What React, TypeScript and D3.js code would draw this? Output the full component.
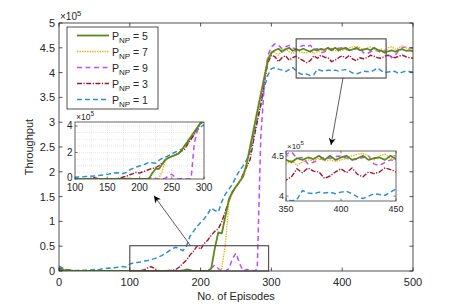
import * as d3 from "d3";

// episodes sampled every 5
const episodes = d3.range(0, 501, 5);

// throughput (x1e5) per P_NP
const throughputP1 = [
  0.10, 0.06, 0.03, 0.02, 0.01, 0.01, 0.02, 0.01, 0.02, 0.02,
  0.03, 0.02, 0.04, 0.05, 0.06, 0.05, 0.07, 0.08, 0.09, 0.08,
  0.14, 0.16, 0.17, 0.18, 0.20, 0.21, 0.23, 0.25, 0.28, 0.31,
  0.35, 0.40, 0.45, 0.48, 0.44, 0.41, 0.50, 0.70, 0.80, 0.90,
  0.98, 1.05, 1.15, 1.27, 1.22, 1.19, 1.40, 1.55, 1.65, 1.75,
  1.90, 2.02, 2.12, 2.24, 2.40, 2.75, 3.05, 3.35, 3.70, 3.95,
  4.08, 4.10, 4.07, 4.05, 4.02, 4.06, 4.10, 4.04, 3.98, 3.96,
  3.97, 3.94, 3.96, 4.07, 4.04, 4.03, 4.05, 4.04, 4.05, 4.03,
  4.05, 4.06, 4.03, 3.99, 3.97, 4.00, 4.03, 4.02, 4.01, 4.05,
  4.09, 4.04, 4.00, 4.01, 4.03, 4.02, 3.98, 4.01, 4.03, 4.02,
  4.01,
];

const throughputP3 = [
  0.06, 0.03, 0.02, 0.01, 0.01, 0.00, 0.00, 0.01, 0.00, 0.00,
  0.00, 0.01, 0.00, 0.00, 0.00, 0.01, 0.00, 0.00, 0.00, 0.00,
  0.00, 0.01, 0.00, 0.01, 0.02, 0.06, 0.09, 0.05, 0.01, 0.00,
  0.00, 0.01, 0.01, 0.03, 0.08, 0.15, 0.22, 0.32, 0.40, 0.50,
  0.44, 0.55, 0.62, 0.72, 0.80, 0.85, 1.00, 1.20, 1.42, 1.58,
  1.70, 1.80, 1.95, 2.10, 2.25, 2.65, 3.00, 3.35, 3.80, 4.20,
  4.35, 4.32, 4.22, 4.30, 4.34, 4.25, 4.30, 4.33, 4.28, 4.24,
  4.20, 4.24, 4.34, 4.29, 4.35, 4.31, 4.30, 4.22, 4.25, 4.30,
  4.34, 4.29, 4.35, 4.27, 4.24, 4.30, 4.28, 4.30, 4.35, 4.33,
  4.30, 4.29, 4.33, 4.35, 4.32, 4.30, 4.33, 4.35, 4.32, 4.30,
  4.29,
];

const throughputP5 = [
  0.04, 0.02, 0.01, 0.00, 0.00, 0.00, 0.00, 0.00, 0.00, 0.00,
  0.00, 0.00, 0.00, 0.00, 0.00, 0.00, 0.00, 0.00, 0.00, 0.00,
  0.00, 0.00, 0.00, 0.00, 0.00, 0.00, 0.00, 0.00, 0.00, 0.00,
  0.00, 0.00, 0.00, 0.00, 0.00, 0.01, 0.03, 0.02, 0.00, 0.00,
  0.00, 0.00, 0.00, 0.05, 0.45, 0.78, 0.76, 1.10, 1.45, 1.60,
  1.70, 1.80, 1.90, 2.15, 2.50, 2.85, 3.20, 3.55, 3.90, 4.25,
  4.40, 4.45, 4.48, 4.42, 4.47, 4.50, 4.44, 4.47, 4.45, 4.48,
  4.45, 4.42, 4.47, 4.45, 4.48, 4.46, 4.50, 4.45, 4.50, 4.45,
  4.48, 4.50, 4.45, 4.47, 4.50, 4.45, 4.47, 4.48, 4.45, 4.50,
  4.46, 4.44, 4.40, 4.43, 4.45, 4.42, 4.46, 4.47, 4.44, 4.45,
  4.43,
];

const throughputP7 = [
  0.03, 0.01, 0.00, 0.00, 0.00, 0.00, 0.00, 0.00, 0.00, 0.00,
  0.00, 0.00, 0.00, 0.00, 0.00, 0.00, 0.00, 0.00, 0.00, 0.00,
  0.00, 0.00, 0.00, 0.00, 0.00, 0.00, 0.00, 0.00, 0.00, 0.00,
  0.00, 0.00, 0.00, 0.00, 0.00, 0.00, 0.01, 0.00, 0.00, 0.00,
  0.00, 0.00, 0.00, 0.00, 0.00, 0.01, 0.05, 0.55, 1.38, 1.58,
  1.72, 1.82, 1.92, 2.18, 2.55, 2.90, 3.25, 3.60, 3.95, 4.30,
  4.42, 4.40, 4.35, 4.45, 4.48, 4.42, 4.38, 4.45, 4.42, 4.40,
  4.40, 4.45, 4.38, 4.42, 4.45, 4.44, 4.47, 4.44, 4.45, 4.43,
  4.45, 4.47, 4.50, 4.52, 4.53, 4.50, 4.45, 4.50, 4.52, 4.47,
  4.45, 4.48, 4.42, 4.50, 4.52, 4.47, 4.50, 4.54, 4.50, 4.47,
  4.49,
];

const throughputP9 = [
  0.02, 0.01, 0.00, 0.00, 0.00, 0.00, 0.00, 0.00, 0.00, 0.00,
  0.00, 0.00, 0.00, 0.00, 0.00, 0.00, 0.00, 0.00, 0.00, 0.00,
  0.00, 0.00, 0.00, 0.00, 0.00, 0.00, 0.00, 0.00, 0.00, 0.00,
  0.00, 0.00, 0.00, 0.00, 0.00, 0.00, 0.00, 0.00, 0.00, 0.00,
  0.00, 0.00, 0.00, 0.05, 0.12, 0.05, 0.00, 0.00, 0.05, 0.25,
  0.36, 0.15, 0.00, 0.03, 0.02, 0.00, 0.03, 2.70, 3.75, 4.35,
  4.52, 4.58, 4.55, 4.48, 4.52, 4.55, 4.50, 4.47, 4.52, 4.55,
  4.52, 4.55, 4.47, 4.48, 4.40, 4.42, 4.45, 4.48, 4.47, 4.49,
  4.50, 4.47, 4.45, 4.46, 4.48, 4.50, 4.40, 4.38, 4.42, 4.45,
  4.44, 4.40, 4.45, 4.38, 4.30, 4.35, 4.45, 4.50, 4.52, 4.50,
  4.49,
];

const xTicks = [0, 100, 200, 300, 400, 500];
const yTicks = [0, 0.5, 1, 1.5, 2, 2.5, 3, 3.5, 4, 4.5, 5];
const yTickLabels = ["0", "0.5", "1", "1.5", "2", "2.5", "3", "3.5", "4", "4.5", "5"];

const inset1XTicks = [100, 150, 200, 250, 300];
const inset1YTicks = [0, 2, 4];
const inset2XTicks = [350, 400, 450];
const inset2YTicks = [4, 4.5];

// zoom boxes in data units [x0, x1, y0, y1]
const zoomBox1 = [100, 296, 0, 0.51];
const zoomBox2 = [335, 462, 3.89, 4.68];

const FONT = "'Liberation Sans', Arial, Helvetica, sans-serif";
const TXT = "#262626";

const series = [
  { np: "1", values: throughputP1, color: "#2E8FD6", dash: "5,3", width: 1.5 },
  { np: "3", values: throughputP3, color: "#A2142F", dash: "5,1.5,1.2,1.5", width: 1.4 },
  { np: "9", values: throughputP9, color: "#BF4CFA", dash: "5,3.5", width: 1.5 },
  { np: "7", values: throughputP7, color: "#EDB120", dash: "1.5,1", width: 1.3 },
  { np: "5", values: throughputP5, color: "#5B8A1E", dash: "none", width: 1.8 },
];
const legendOrder = ["5", "7", "9", "3", "1"];

function Lines({ x, y, clip }: any) {
  const line = d3
    .line<number>()
    .x((_, i) => x(episodes[i]))
    .y((d) => y(d));
  return (
    <g clipPath={`url(#${clip})`}>
      {series.map((s) => (
        <path
          key={s.np}
          d={line(s.values) || ""}
          fill="none"
          stroke={s.color}
          strokeWidth={s.width}
          strokeDasharray={s.dash}
          strokeLinejoin="round"
        />
      ))}
    </g>
  );
}

function Exp({ xPos, yPos, size }: any) {
  return (
    <text x={xPos} y={yPos} fontSize={size} fill={TXT} fontFamily={FONT}>
      ×10
      <tspan fontSize={size * 0.75} dy={-size * 0.45}>
        5
      </tspan>
    </text>
  );
}

export default function App() {
  const x = d3.scaleLinear().domain([0, 500]).range([59, 413]);
  const y = d3.scaleLinear().domain([0, 5]).range([271, 23]);

  const ix1 = d3.scaleLinear().domain([100, 300]).range([75, 204]);
  const iy1 = d3.scaleLinear().domain([0, 4.3]).range([179, 122]);
  const ix2 = d3.scaleLinear().domain([350, 450]).range([286, 396]);
  const iy2 = d3.scaleLinear().domain([3.94, 4.56]).range([201, 151]);

  const [mx0, mx1] = x.range();
  const [my0, my1] = y.range();

  return (
    <svg
      width={457}
      height={305}
      style={{ position: "absolute", left: 0, top: 0, background: "#fff" }}
      fontFamily={FONT}
    >
      <defs>
        <clipPath id="cMain">
          <rect x={mx0} y={my1} width={mx1 - mx0} height={my0 - my1} />
        </clipPath>
        <clipPath id="cIn1">
          <rect x={75} y={122} width={129} height={57} />
        </clipPath>
        <clipPath id="cIn2">
          <rect x={286} y={151} width={110} height={50} />
        </clipPath>
        <marker id="head" viewBox="0 0 10 10" refX="10" refY="5" markerWidth="9" markerHeight="7" orient="auto" markerUnits="userSpaceOnUse">
          <path d="M0,0 L10,5 L0,10 L3,5 z" fill="#000" />
        </marker>
      </defs>

      {/* main plot */}
      <Lines x={x} y={y} clip="cMain" />

      {/* zoom boxes */}
      {[zoomBox1, zoomBox2].map((b, i) => (
        <rect
          key={i}
          x={x(b[0])}
          y={y(b[3])}
          width={x(b[1]) - x(b[0])}
          height={y(b[2]) - y(b[3])}
          fill="none"
          stroke="#555"
          strokeWidth={1.2}
        />
      ))}

      {/* arrows */}
      <line x1={190.7} y1={246} x2={154} y2={195.7} stroke="#333" strokeWidth={0.8} markerEnd="url(#head)" />
      <line x1={343} y1={78} x2={331} y2={145} stroke="#333" strokeWidth={0.8} markerEnd="url(#head)" />

      {/* axes box + ticks */}
      <rect x={mx0} y={my1} width={mx1 - mx0} height={my0 - my1} fill="none" stroke={TXT} strokeWidth={0.8} />
      {xTicks.map((t) => (
        <g key={"x" + t}>
          <line x1={x(t)} x2={x(t)} y1={my0} y2={my0 - 3.5} stroke={TXT} strokeWidth={0.8} />
          <line x1={x(t)} x2={x(t)} y1={my1} y2={my1 + 3.5} stroke={TXT} strokeWidth={0.8} />
          <text x={x(t)} y={286} fontSize={11} textAnchor="middle" fill={TXT}>
            {t}
          </text>
        </g>
      ))}
      {yTicks.map((t, i) => (
        <g key={"y" + t}>
          <line x1={mx0} x2={mx0 + 3.5} y1={y(t)} y2={y(t)} stroke={TXT} strokeWidth={0.8} />
          <line x1={mx1} x2={mx1 - 3.5} y1={y(t)} y2={y(t)} stroke={TXT} strokeWidth={0.8} />
          <text x={55} y={y(t) + 4} fontSize={11} textAnchor="end" fill={TXT}>
            {yTickLabels[i]}
          </text>
        </g>
      ))}
      <Exp xPos={60} yPos={20} size={10} />
      <text x={(mx0 + mx1) / 2} y={300} fontSize={11} textAnchor="middle" fill={TXT}>
        No. of Episodes
      </text>
      <text transform={`translate(33,${(my0 + my1) / 2}) rotate(-90)`} fontSize={11} textAnchor="middle" fill={TXT}>
        Throughput
      </text>

      {/* legend */}
      <rect x={67} y={27} width={91} height={82} fill="#fff" stroke={TXT} strokeWidth={0.8} />
      {legendOrder.map((np, i) => {
        const s = series.find((d) => d.np === np)!;
        const ly = 35.5 + i * 16;
        return (
          <g key={"l" + np}>
            <line x1={77} x2={109} y1={ly} y2={ly} stroke={s.color} strokeWidth={s.width} strokeDasharray={s.dash} />
            <text x={112} y={ly + 4} fontSize={10.5} fill={TXT}>
              P
              <tspan fontSize={8} dy={3}>
                NP
              </tspan>
              <tspan dy={-3}> = {np}</tspan>
            </text>
          </g>
        );
      })}

      {/* inset 1 */}
      <rect x={75} y={122} width={129} height={57} fill="#fff" />
      {d3.range(100, 301, 25).map((t) => (
        <line key={"g1x" + t} x1={ix1(t)} x2={ix1(t)} y1={122} y2={179} stroke="#d0d0d0" strokeWidth={0.5} strokeDasharray="1,1" />
      ))}
      {d3.range(0, 4.3, 0.5).map((t) => (
        <line key={"g1y" + t} x1={75} x2={204} y1={iy1(t)} y2={iy1(t)} stroke="#d0d0d0" strokeWidth={0.5} strokeDasharray="1,1" />
      ))}
      <Lines x={ix1} y={iy1} clip="cIn1" />
      <rect x={75} y={122} width={129} height={57} fill="none" stroke="#444" strokeWidth={0.8} />
      {inset1XTicks.map((t) => (
        <g key={"i1x" + t}>
          <line x1={ix1(t)} x2={ix1(t)} y1={179} y2={176.5} stroke="#444" strokeWidth={0.7} />
          <text x={ix1(t)} y={191} fontSize={10} textAnchor="middle" fill={TXT}>
            {t}
          </text>
        </g>
      ))}
      {inset1YTicks.map((t) => (
        <g key={"i1y" + t}>
          <line x1={75} x2={77.5} y1={iy1(t)} y2={iy1(t)} stroke="#444" strokeWidth={0.7} />
          <text x={72.5} y={iy1(t) + (t === 0 ? 2 : 3.5)} fontSize={10} textAnchor="end" fill={TXT}>
            {t}
          </text>
        </g>
      ))}
      <Exp xPos={76} yPos={119.5} size={8.5} />

      {/* inset 2 */}
      <rect x={286} y={151} width={110} height={50} fill="#fff" />
      <Lines x={ix2} y={iy2} clip="cIn2" />
      <rect x={286} y={151} width={110} height={50} fill="none" stroke="#444" strokeWidth={0.8} />
      {inset2XTicks.map((t) => (
        <g key={"i2x" + t}>
          <line x1={ix2(t)} x2={ix2(t)} y1={201} y2={198.5} stroke="#444" strokeWidth={0.7} />
          <line x1={ix2(t)} x2={ix2(t)} y1={151} y2={153.5} stroke="#444" strokeWidth={0.7} />
          <text x={ix2(t)} y={212} fontSize={9} textAnchor="middle" fill={TXT}>
            {t}
          </text>
        </g>
      ))}
      {inset2YTicks.map((t) => (
        <g key={"i2y" + t}>
          <line x1={286} x2={288.5} y1={iy2(t)} y2={iy2(t)} stroke="#444" strokeWidth={0.7} />
          <line x1={396} x2={393.5} y1={iy2(t)} y2={iy2(t)} stroke="#444" strokeWidth={0.7} />
          <text x={284} y={iy2(t) + 3} fontSize={9} textAnchor="end" fill={TXT}>
            {t}
          </text>
        </g>
      ))}
      <Exp xPos={287} yPos={148.5} size={8} />
    </svg>
  );
}
